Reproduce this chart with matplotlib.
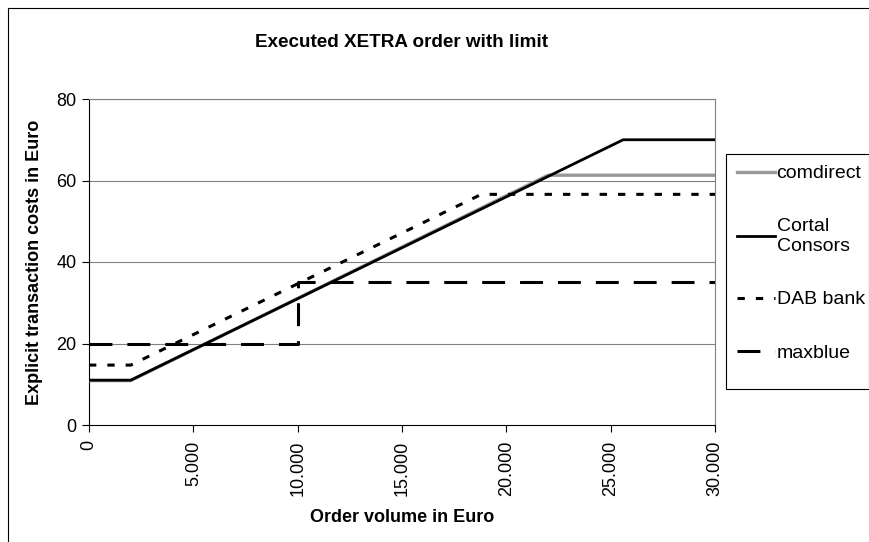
import matplotlib
matplotlib.use("Agg")
import matplotlib.pyplot as plt
from matplotlib.lines import Line2D
from matplotlib.patches import Rectangle

plt.rcParams['font.family'] = ['Liberation Sans', 'DejaVu Sans']

# order volume (Euro) breakpoints and cost (Euro) per broker
comdirect_x = [0, 2000, 22000, 30000]
comdirect_y = [10.9, 10.9, 61.3, 61.3]

cortal_x = [0, 2000, 25600, 30000]
cortal_y = [11, 11, 70, 70]

dab_x = [0, 2000, 18800, 30000]
dab_y = [14.7, 14.7, 56.6, 56.6]

maxblue_x = [0, 10000, 10000, 30000]
maxblue_y = [20, 20, 35, 35]

x_ticks = [0, 5000, 10000, 15000, 20000, 25000, 30000]
x_tick_labels = ['0', '5.000', '10.000', '15.000', '20.000', '25.000', '30.000']
y_ticks = [0, 20, 40, 60, 80]

fig = plt.figure(figsize=(8.7, 5.42), dpi=100)
ax = fig.add_axes([89 / 870, 117 / 542, 626 / 870, 326 / 542])

# grid lines
for y in y_ticks[1:]:
    ax.axhline(y, color='#808080', linewidth=0.8, zorder=1)

ax.plot(comdirect_x, comdirect_y, color='#999999', linewidth=2.4, label='comdirect', zorder=3)
ax.plot(cortal_x, cortal_y, color='black', linewidth=2.0, label='Cortal\nConsors', zorder=4)
ax.plot(dab_x, dab_y, color='black', linewidth=2.2, dashes=(2.4, 3.6), label='DAB bank', zorder=5)
ax.plot(maxblue_x, maxblue_y, color='black', linewidth=2.2, dashes=(7.5, 4.9), label='maxblue', zorder=5)

ax.set_xlim(0, 30000)
ax.set_ylim(0, 80)
ax.set_xticks(x_ticks)
ax.set_xticklabels(x_tick_labels, rotation=90, fontsize=13)
ax.set_yticks(y_ticks)
ax.set_yticklabels([str(v) for v in y_ticks], fontsize=13)
ax.tick_params(direction='out', length=5, width=0.8)
ax.tick_params(axis='x', pad=6)
ax.tick_params(axis='y', pad=4)

for side in ['top', 'right']:
    ax.spines[side].set_color('#808080')
    ax.spines[side].set_linewidth(0.8)
for side in ['left', 'bottom']:
    ax.spines[side].set_color('black')
    ax.spines[side].set_linewidth(0.8)

ax.set_xlabel('Order volume in Euro', fontsize=13, fontweight='bold', va='center')
ax.set_ylabel('Explicit transaction costs in Euro', fontsize=13, fontweight='bold', va='center')
ax.xaxis.set_label_coords(0.5, (425 - 518) / 326)
ax.yaxis.set_label_coords((35 - 89) / 626, 0.5)
fig.text(402 / 870, 1 - 42 / 542, 'Executed XETRA order with limit', fontsize=13.6,
         fontweight='bold', ha='center', va='center')

leg = fig.legend(loc='upper left', bbox_to_anchor=(726 / 870, 1 - 154 / 542),
                 fontsize=14, frameon=False, handlelength=1.95,
                 handletextpad=0.1, labelspacing=1.85, borderpad=0.55, borderaxespad=0)

# legend box drawn separately so its height matches the original
fig.add_artist(Rectangle((726 / 870, 1 - 389 / 542), 143 / 870, 235 / 542,
                         transform=fig.transFigure, fill=False,
                         edgecolor='black', linewidth=0.8))

# outer chart frame (left and top edges visible)
fig.add_artist(Line2D([8 / 870, 8 / 870], [0, 1 - 8 / 542], transform=fig.transFigure,
                      color='black', linewidth=0.8))
fig.add_artist(Line2D([8 / 870, 1], [1 - 8 / 542, 1 - 8 / 542], transform=fig.transFigure,
                      color='black', linewidth=0.8))

fig.savefig('out.png', dpi=100)
